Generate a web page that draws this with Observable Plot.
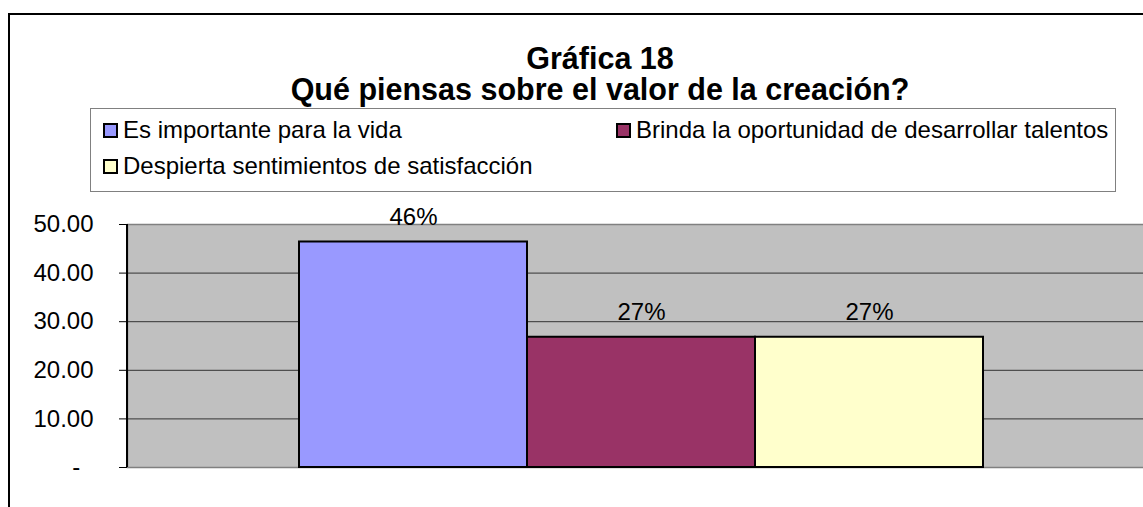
<!DOCTYPE html>
<html>
<head>
<meta charset="utf-8">
<script src="https://cdn.jsdelivr.net/npm/d3@7"></script>
<script src="https://cdn.jsdelivr.net/npm/@observablehq/plot@0.6"></script>
<style>
  html, body { margin: 0; padding: 0; background: #fff; overflow: hidden; width: 1143px; height: 507px; }
  body { font-family: "Liberation Sans", Arial, sans-serif; color: #000; position: relative; }
  #border { position: absolute; left: 8px; top: 13px; width: 1300px; height: 600px; border-left: 2px solid #000; border-top: 2px solid #000; }
  #title { position: absolute; left: 0; top: 43px; width: 1200px; text-align: center; font-weight: bold; font-size: 30.5px; line-height: 31px; }
  #legend { position: absolute; left: 90px; top: 108px; width: 1024px; height: 82px; border: 1px solid #808080; background: #fff; }
  .item { position: absolute; font-size: 24px; line-height: 28px; white-space: nowrap; }
  .sw { position: absolute; width: 11px; height: 11px; border: 2px solid #000; }
  #plot { position: absolute; left: 0; top: 200px; width: 1200px; }
  #plot svg { max-width: none !important; }
</style>
</head>
<body>
<div id="border"></div>
<div id="title"></div>
<div id="legend"></div>
<div id="plot"></div>
<script>
const titleLines = ["Gráfica 18", "Qué piensas sobre el valor de la creación?"];
const series = ["Es importante para la vida", "Brinda la oportunidad de desarrollar talentos", "Despierta sentimientos de satisfacción"];
const values = [46.4, 26.8, 26.8];
const labels = ["46%", "27%", "27%"];
const colors = ["#9999FF", "#993366", "#FFFFCC"];
const yTicks = [0, 10, 20, 30, 40, 50];

// title
document.getElementById("title").innerHTML = titleLines.map(t => `<div>${t}</div>`).join("");

// legend (layout positions only)
const legendPos = [[12, 15], [525, 15], [12, 51]];
const legend = document.getElementById("legend");
series.forEach((s, i) => {
  const [lx, ly] = legendPos[i];
  const it = document.createElement("div");
  it.className = "item";
  it.style.left = lx + "px";
  it.style.top = (ly - 8) + "px";
  it.innerHTML = `<span class="sw" style="left:0;top:7px;background:${colors[i]}"></span><span style="position:absolute;left:20px;top:0">${s}</span>`;
  legend.appendChild(it);
});

const data = series.map((s, i) => ({s, v: values[i], label: labels[i]}));

const chart = Plot.plot({
  width: 1200,
  height: 307,
  marginTop: 24,
  marginBottom: 40,
  marginLeft: 127,
  marginRight: 45,
  style: {fontFamily: "'Liberation Sans', Arial, sans-serif", fontSize: "24px", color: "#000", background: "transparent", overflow: "visible", maxWidth: "none"},
  x: {type: "band", domain: series, padding: 0, insetLeft: 171, insetRight: 171, axis: null},
  y: {domain: [0, 50], axis: null},
  color: {domain: series, range: colors},
  marks: [
    Plot.frame({fill: "#C0C0C0", stroke: "#808080", strokeWidth: 1.5}),
    Plot.ruleY(yTicks.filter(t => t > 0 && t < 50), {stroke: "#333", strokeWidth: 1}),
    Plot.barY(data, {x: "s", y: "v", fill: "s", stroke: "#000", strokeWidth: 2}),
    Plot.text(data, {x: "s", y: "v", text: "label", dy: -17, lineAnchor: "bottom", fontSize: 24, fill: "#000"}),
    Plot.axisY({ticks: yTicks, label: null, tickFormat: d => d === 0 ? "-\u00a0\u00a0" : d.toFixed(2), tickSize: 8, tickPadding: 26, fontSize: 24, stroke: "#000", fill: "#000"})
  ]
});
chart.style.maxWidth = "none";
// left axis line
const svg = d3.select(chart);
svg.append("line").attr("x1", 127).attr("x2", 127).attr("y1", 24).attr("y2", 267).attr("stroke", "#000").attr("stroke-width", 2);
document.getElementById("plot").appendChild(chart);
</script>
</body>
</html>
